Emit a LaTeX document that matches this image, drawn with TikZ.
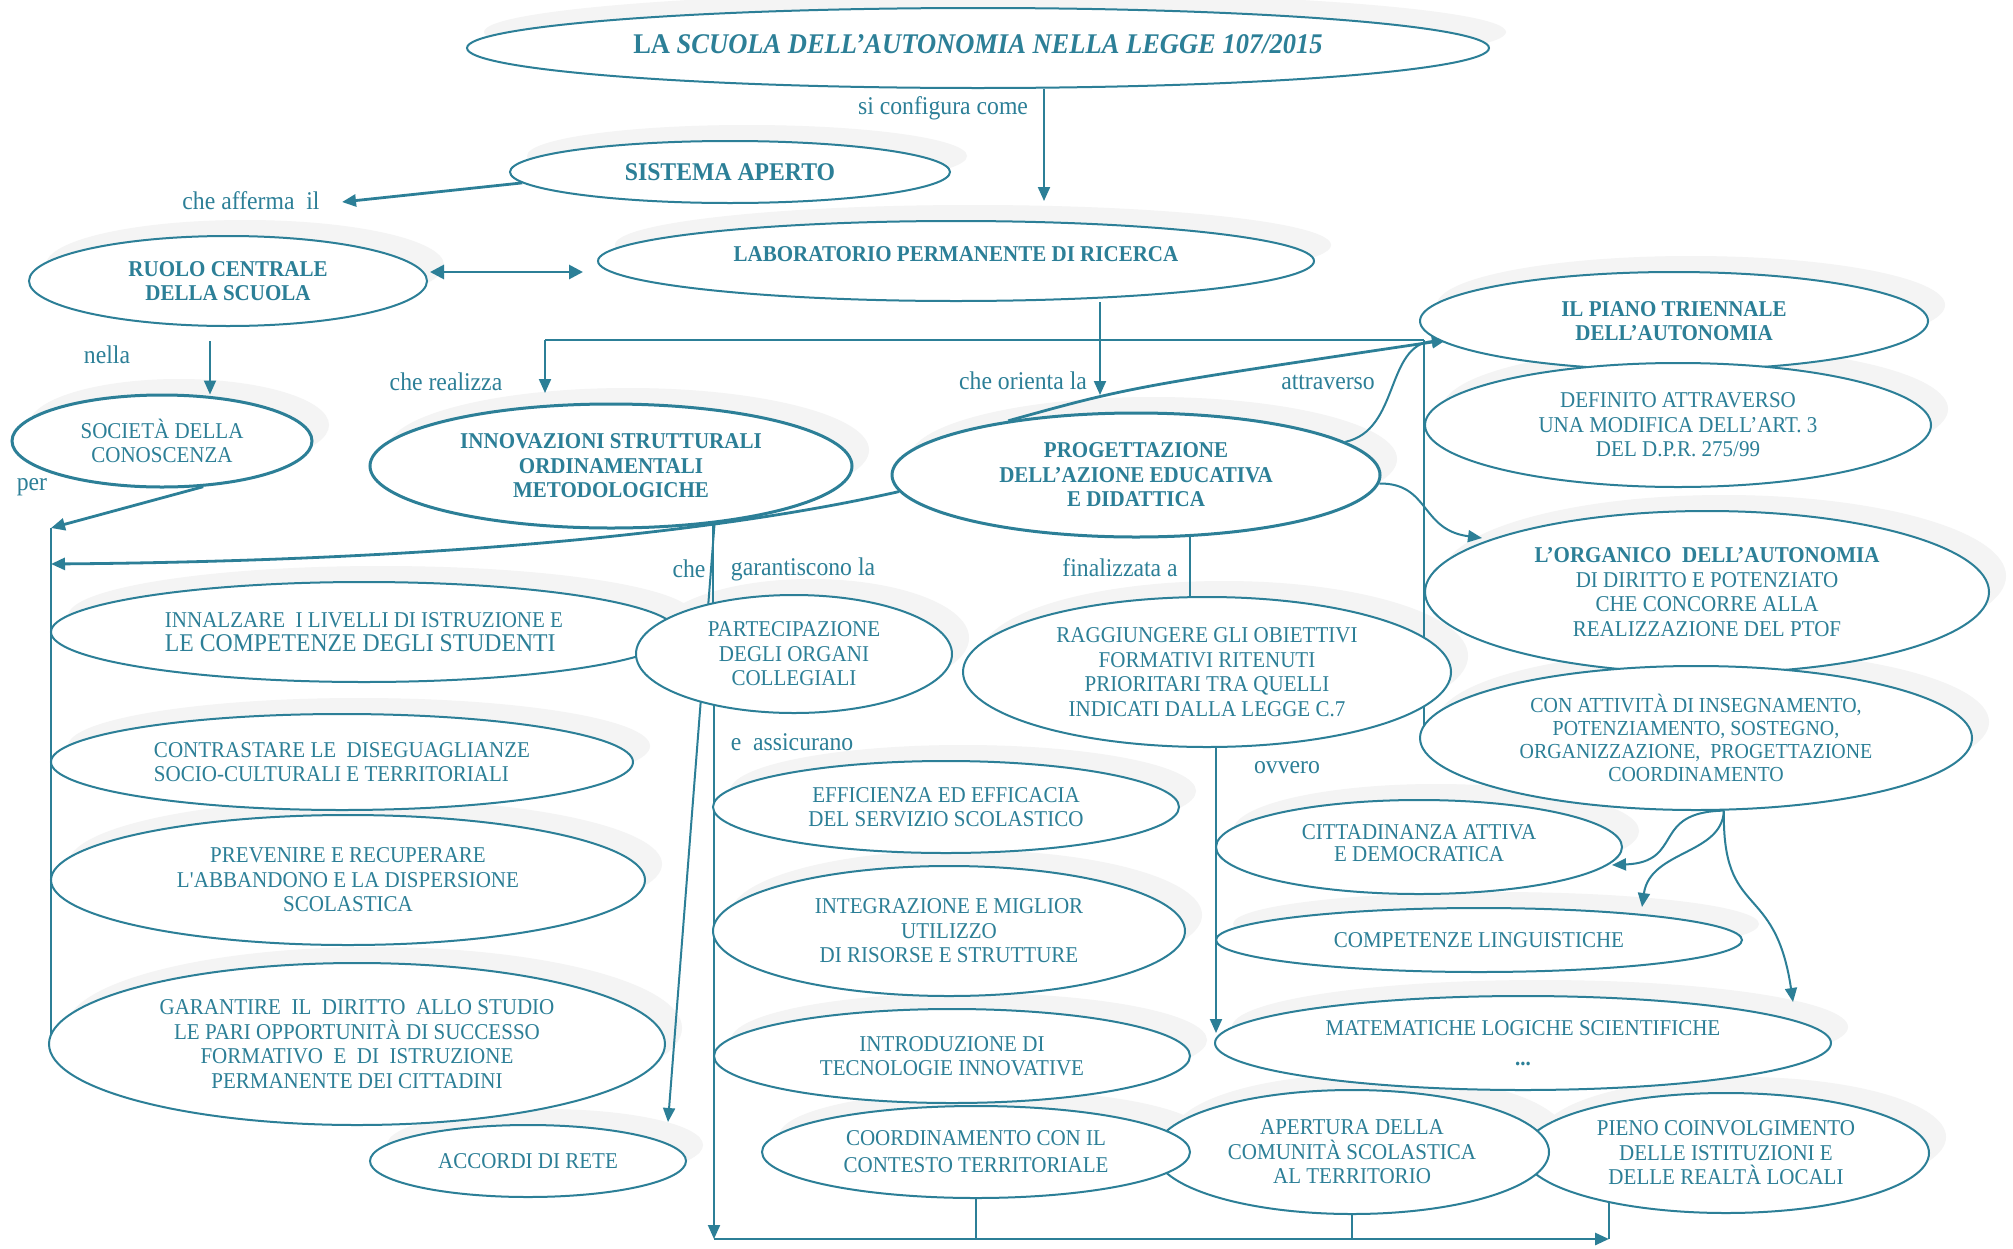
\documentclass[tikz,border=0pt]{standalone}
\usepackage{fontspec}
\setmainfont{Liberation Serif}[FakeStretch=0.93]
\usetikzlibrary{shapes.geometric,arrows.meta}

\definecolor{teal1}{RGB}{44,127,151}
\definecolor{shadowgray}{RGB}{244,244,244}

\newcommand\rgfont{\fontsize{11.3}{12.25}\selectfont}
\newcommand\bdfont{\fontsize{11.3}{12.25}\selectfont\bfseries}
\newcommand\lbfont{\fontsize{12.75}{14}\selectfont}

\pgfdeclarelayer{shade}
\pgfdeclarelayer{wires}
\pgfsetlayers{shade,wires,main}

% ellipse with a soft offset shadow: name, x, y, half width, half height, style, text
\newcommand\bubble[7]{%
  \begin{pgfonlayer}{shade}
    \fill[shadowgray] (#2+17,#3-16) ellipse (#4 and #5);
  \end{pgfonlayer}
  \node[bub,minimum width=#4pt,minimum height=#5pt,#6] (#1) at (#2,#3) {#7};
}

\tikzset{
  bub/.style={ellipse,draw=teal1,fill=white,line width=1pt,inner sep=0pt,
              align=center,text=teal1,font=\rgfont},
  bbub/.style={font=\bdfont},
  heavy/.style={line width=1.5pt},
  ln/.style={draw=teal1,line width=1pt},
  tln/.style={draw=teal1,line width=1.4pt},
  hd/.style={-{Triangle[length=7pt,width=6pt]}},
  lbl/.style={text=teal1,font=\lbfont,inner sep=0pt},
}

\begin{document}
\begin{tikzpicture}[x=0.5pt,y=-0.5pt]
\begin{pgfonlayer}{shade}
  \fill[white] (0,0) rectangle (2013,1248);
\end{pgfonlayer}
\useasboundingbox (0,0) rectangle (2013,1248);

% ---------- concepts ----------
\bubble{title}{978}{48}{511}{40}{font=\fontsize{14.25}{16}\selectfont\bfseries}
  {\raisebox{4pt}{LA \textit{SCUOLA DELL’AUTONOMIA NELLA LEGGE 107/2015}}}
\bubble{sist}{730}{172}{220}{31}{font=\fontsize{12.75}{14}\selectfont\bfseries}{SISTEMA APERTO}
\bubble{lab}{956}{261}{358}{40}{bbub}{\raisebox{7pt}{LABORATORIO PERMANENTE DI RICERCA}}
\bubble{ruolo}{228}{281}{199}{45}{bbub}{RUOLO CENTRALE\\DELLA SCUOLA}
\bubble{soc}{162}{441}{150}{46}{heavy}{SOCIETÀ DELLA\\CONOSCENZA}
\bubble{innov}{611}{466}{241}{62}{bbub,heavy}{INNOVAZIONI STRUTTURALI\\ORDINAMENTALI\\METODOLOGICHE}
\bubble{prog}{1136}{475}{244}{62}{bbub,heavy}{PROGETTAZIONE\\DELL’AZIONE EDUCATIVA\\E DIDATTICA}
\bubble{piano}{1674}{321}{254}{49}{bbub}{IL PIANO TRIENNALE\\DELL’AUTONOMIA}
\bubble{defin}{1678}{425}{253}{62}{}{DEFINITO ATTRAVERSO\\UNA MODIFICA DELL’ART. 3\\DEL D.P.R. 275/99}
\bubble{organ}{1707}{592}{282}{81}{}{\textbf{L’ORGANICO\ \ DELL’AUTONOMIA}\\DI DIRITTO E POTENZIATO\\CHE CONCORRE ALLA\\REALIZZAZIONE DEL PTOF}
\bubble{conatt}{1696}{738}{276}{72}{font=\fontsize{10.7}{11.5}\selectfont}
  {CON ATTIVITÀ DI INSEGNAMENTO,\\POTENZIAMENTO, SOSTEGNO,\\ORGANIZZAZIONE,\ \ PROGETTAZIONE\\COORDINAMENTO}
\bubble{ragg}{1207}{672}{244}{75}{}{RAGGIUNGERE GLI OBIETTIVI\\FORMATIVI RITENUTI\\PRIORITARI TRA QUELLI\\INDICATI DALLA LEGGE C.7}
\bubble{innal}{364}{632}{313}{50}{align=left}
  {INNALZARE\ \ I LIVELLI DI ISTRUZIONE E\\{\fontsize{12.75}{13}\selectfont LE COMPETENZE DEGLI STUDENTI}}
\bubble{part}{794}{654}{158}{59}{}{PARTECIPAZIONE\\DEGLI ORGANI\\COLLEGIALI}
\bubble{contr}{342}{762}{291}{48}{align=left}{CONTRASTARE LE\ \ DISEGUAGLIANZE\\SOCIO-CULTURALI E TERRITORIALI}
\bubble{effic}{946}{807}{233}{46}{}{EFFICIENZA ED EFFICACIA\\DEL SERVIZIO SCOLASTICO}
\bubble{citt}{1419}{847}{203}{47}{font=\fontsize{11.3}{11.5}\selectfont}{\raisebox{4pt}{\shortstack{CITTADINANZA ATTIVA\\E DEMOCRATICA}}}
\bubble{prev}{348}{880}{297}{65}{}{PREVENIRE E RECUPERARE\\L\textquotesingle ABBANDONO E LA DISPERSIONE\\SCOLASTICA}
\bubble{integr}{949}{931}{236}{65}{}{INTEGRAZIONE E MIGLIOR\\UTILIZZO\\DI RISORSE E STRUTTURE}
\bubble{compet}{1479}{940}{263}{32}{}{COMPETENZE LINGUISTICHE}
\bubble{garant}{357}{1044}{308}{81}{}
  {GARANTIRE\ \ IL\ \ DIRITTO\ \ ALLO STUDIO\\LE PARI OPPORTUNITÀ DI SUCCESSO\\FORMATIVO\ \ E\ \ DI\ \ ISTRUZIONE\\PERMANENTE DEI CITTADINI}
\bubble{introd}{952}{1056}{238}{47}{}{INTRODUZIONE DI\\TECNOLOGIE INNOVATIVE}
\bubble{matem}{1523}{1043}{308}{47}{}{MATEMATICHE LOGICHE SCIENTIFICHE\\[3pt]\textbf{...}}
\bubble{accordi}{528}{1161}{158}{36}{}{ACCORDI DI RETE}
\bubble{pieno}{1726}{1153}{203}{60}{}{PIENO COINVOLGIMENTO\\DELLE ISTITUZIONI E\\DELLE REALTÀ LOCALI}
\bubble{apert}{1352}{1152}{197}{62}{}{APERTURA DELLA\\COMUNITÀ SCOLASTICA\\AL TERRITORIO}
\bubble{coord}{976}{1152}{214}{46}{font=\fontsize{11.3}{13.5}\selectfont}{COORDINAMENTO CON IL\\CONTESTO TERRITORIALE}

% ---------- linking words ----------
\node[lbl] (lblCfg)  at (943,108)  {si configura come};
\node[lbl] (lblAff)  at (251,201)  {che afferma\ \ il};
\node[lbl] (lblNel)  at (107,355)  {nella};
\node[lbl] (lblReal) at (446,382)  {che realizza};
\node[lbl] (lblOr)   at (1023,381) {che orienta la};
\node[lbl] (lblAtt)  at (1328,382) {attraverso};
\node[lbl] (lblPer)  at (32,487)   {per};
\node[lbl] (lblChe)  at (689,569)  {che};
\node[lbl] (lblGar)  at (803,569)  {garantiscono la};
\node[lbl] (lblFin)  at (1120,568) {finalizzata a};
\node[lbl] (lblAss)  at (792,742)  {e\ \ assicurano};
\node[lbl] (lblOvv)  at (1287,768) {ovvero};

% ---------- free ends of connectors ----------
\coordinate (affTip)   at (342,202);
\coordinate (barTop)   at (51,528);
\coordinate (perTip)   at (51,564);
\coordinate (barBot)   at (51,1053);
\coordinate (orTip)    at (1100,395);
\coordinate (brL)      at (545,340);
\coordinate (brR)      at (1424,340);
\coordinate (brB)      at (1424,727);
\coordinate (realTip)  at (545,393);
\coordinate (pianoTip) at (1446,340);
\coordinate (organTip) at (1482,538);
\coordinate (garX)     at (713,0);
\coordinate (accTip)   at (668,1122);
\coordinate (cornerBL) at (714,1239);
\coordinate (cornerBR) at (1609,1239);
\coordinate (finX)     at (1190,0);
\coordinate (ovTip)    at (1216,1033);
\coordinate (cittTip)  at (1612,865);
\coordinate (compTip)  at (1642,907);
\coordinate (matTip)   at (1793,1002);

% ---------- connectors ----------
\begin{pgfonlayer}{wires}
  \draw[ln,hd] ([shift={(66,0)}]title.south) -- ([shift={(88,-19)}]lab.north);
  \draw[tln,hd] (sist.183) -- (affTip);
  \draw[tln,{Triangle[length=7pt,width=7pt]}-{Triangle[length=7pt,width=7pt]}]
    ([shift={(2,-9)}]ruolo.east) -- ([shift={(-14,11)}]lab.west);
  \draw[ln,hd] ([shift={(-18,14)}]ruolo.south) -- ([shift={(48,1)}]soc.north);
  \draw[tln,hd] (soc.312) -- (barTop);
  \draw[ln] (barTop) -- (barBot);
  \draw[tln,hd] (prog.184) .. controls (650,548) and (300,562) .. (perTip);
  \draw[ln,hd] (lab.south -| orTip) -- (orTip);
  \draw[tln] (brR) -- (brL);
  \draw[ln,hd] (brL) -- (realTip);
  \draw[ln] (brR) -- (brB);
  \draw[tln,hd] (prog.157) .. controls (1130,387) .. (pianoTip);
  \draw[ln,hd] (prog.9) .. controls (1400,430) and (1385,345) .. (pianoTip);
  \draw[ln,hd] (prog.358) .. controls (1430,483) and (1420,530) .. (organTip);
  \draw[ln] (innov.center -| garX) -- (part.center -| garX);
  \draw[ln,hd] (innov.331) -- (accTip);
  \draw[ln,hd] (part.center -| cornerBL) -- (cornerBL);
  \draw[tln,hd] (cornerBL) -- (cornerBR);
  \draw[ln] (coord.center) -- (coord.center |- cornerBL);
  \draw[ln] (apert.center) -- (apert.center |- cornerBL);
  \draw[ln] (pieno.center -| cornerBR) -- (cornerBR);
  \draw[ln] (prog.center -| finX) -- (ragg.center -| finX);
  \draw[ln,hd] (ragg.center -| ovTip) -- (ovTip);
  \draw[ln,hd] (conatt.291) .. controls (1650,812) and (1685,862) .. (cittTip);
  \draw[ln,hd] (conatt.291) .. controls (1722,855) and (1650,850) .. (compTip);
  \draw[ln,hd] (conatt.291) .. controls (1722,920) and (1775,880) .. (matTip);
\end{pgfonlayer}
\end{tikzpicture}
\end{document}
